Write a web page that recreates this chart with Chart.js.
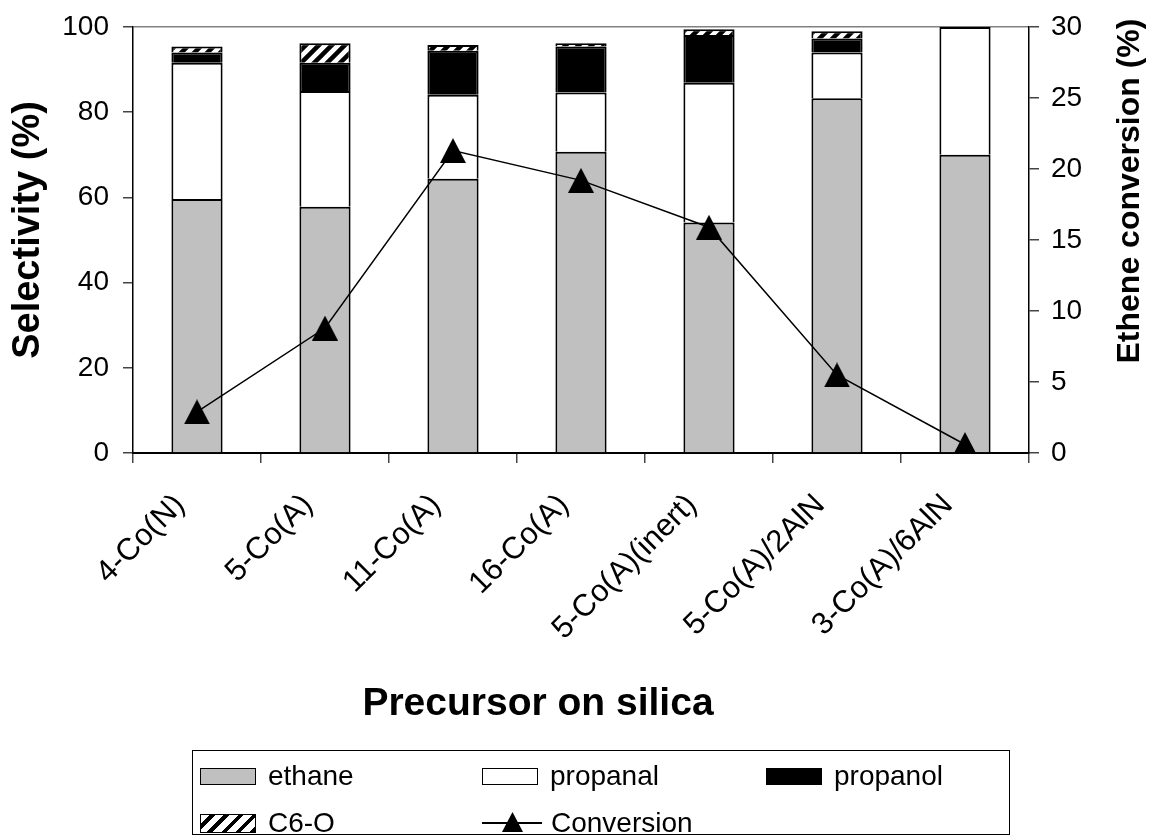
<!DOCTYPE html>
<html>
<head>
<meta charset="utf-8">
<script src="https://cdn.jsdelivr.net/npm/chart.js@4/dist/chart.umd.min.js"></script>
<style>
  body { margin: 0; background: #fff; }
  #wrap { position: relative; width: 1153px; height: 837px; }
  #legend { position: absolute; left: 192px; top: 750px; width: 818px; height: 85px;
    border: 1.5px solid #000; box-sizing: border-box;
    font-family: "Liberation Sans", Arial, sans-serif; font-size: 28px; color: #000; }
  .item { position: absolute; height: 32px; display: flex; align-items: center; }
  .sw { width: 56px; height: 17px; border: 1.5px solid #000; box-sizing: border-box; margin-right: 12px; }
  .ethane { background: #c0c0c0; }
  .propanal { background: #fff; }
  .propanol { background: #000; }
  .c6o { height: 19px; background: repeating-linear-gradient(-45deg, #000 0 4px, #fff 4px 10px); }
  .conv { position: relative; width: 60px; height: 32px; margin-right: 9px; }
  .conv .ln { position: absolute; left: 0; right: 0; top: 15px; height: 1.5px; background: #000; }
  .conv canvas { position: absolute; left: 20px; top: 5px; }
</style>
</head>
<body>
<div id="wrap">
  <canvas id="c" width="1153" height="837"></canvas>
  <div id="legend">
    <div class="item" style="left:7px; top:9px;"><div class="sw ethane"></div><span>ethane</span></div>
    <div class="item" style="left:289px; top:9px;"><div class="sw propanal"></div><span>propanal</span></div>
    <div class="item" style="left:573px; top:9px;"><div class="sw propanol"></div><span>propanol</span></div>
    <div class="item" style="left:7px; top:56px;"><div class="sw c6o"></div><span>C6-O</span></div>
    <div class="item" style="left:289px; top:56px;"><div class="conv"><div class="ln"></div><canvas id="legTri" width="21" height="20"></canvas></div><span>Conversion</span></div>
  </div>
</div>
<script>
// ---- data ----
const categories = ['4-Co(N)', '5-Co(A)', '11-Co(A)', '16-Co(A)', '5-Co(A)(inert)', '5-Co(A)/2AlN', '3-Co(A)/6AlN'];
const ethane     = [59.6, 57.8, 64.4, 70.7, 54.1, 83.3, 70.0];
const propanal   = [32.0, 27.2, 19.7, 13.9, 32.8, 10.7, 30.0];
const propanol   = [2.4, 6.6, 10.3, 10.8, 11.2, 3.3, null];
const c6o        = [1.4, 4.6, 1.4, 0.8, 1.4, 1.7, null];
const conversion = [2.9, 8.8, 21.3, 19.2, 15.9, 5.5, 0.6];
const selectivityTicks = [0, 20, 40, 60, 80, 100];
const conversionTicks  = [0, 5, 10, 15, 20, 25, 30];
const xTitle = 'Precursor on silica';
const yTitle = 'Selectivity (%)';
const y1Title = 'Ethene conversion (%)';

const FONT = '"Liberation Sans", Arial, sans-serif';

function makeTriangle(cv, w, h) {
  const c = cv || document.createElement('canvas');
  c.width = w; c.height = h;
  const g = c.getContext('2d');
  g.fillStyle = '#000';
  g.beginPath();
  g.moveTo(w / 2, 0); g.lineTo(w, h); g.lineTo(0, h); g.closePath();
  g.fill();
  return c;
}
const tri = makeTriangle(null, 26, 25);
makeTriangle(document.getElementById('legTri'), 21, 20);

function hatch() {
  const s = 13;
  const c = document.createElement('canvas');
  c.width = s; c.height = s;
  const g = c.getContext('2d');
  g.fillStyle = '#fff'; g.fillRect(0, 0, s, s);
  g.strokeStyle = '#000'; g.lineWidth = 4.5; g.lineCap = 'square';
  g.beginPath();
  g.moveTo(0, s); g.lineTo(s, 0);
  g.moveTo(-s / 2, s / 2); g.lineTo(s / 2, -s / 2);
  g.moveTo(s / 2, s * 1.5); g.lineTo(s * 1.5, s / 2);
  g.stroke();
  return g.createPattern(c, 'repeat');
}
const ctx = document.getElementById('c').getContext('2d');

// axis titles placed as in the reference (vertical titles read bottom-to-top)
const axisTitles = {
  id: 'axisTitles',
  afterDraw(chart) {
    const c = chart.ctx;
    const sc = chart.options.scales;
    c.save();
    c.fillStyle = '#000';
    c.font = 'bold 39px ' + FONT;
    c.textAlign = 'center'; c.textBaseline = 'alphabetic';
    c.fillText(sc.x.title.text, 538, 715);

    c.save();
    c.translate(29, 230); c.rotate(-Math.PI / 2);
    c.font = 'bold 38px ' + FONT; c.textBaseline = 'middle';
    c.fillText(sc.y.title.text, 0, 0);
    c.restore();

    c.save();
    c.translate(1130, 191); c.rotate(-Math.PI / 2);
    c.font = 'bold 32px ' + FONT; c.textBaseline = 'middle';
    c.fillText(sc.y1.title.text, 0, 0);
    c.restore();
    c.restore();
  }
};

const barCommon = { type: 'bar', yAxisID: 'y', borderColor: '#000', borderWidth: 2, borderSkipped: 'start',
  barPercentage: 0.4, categoryPercentage: 1.0, stack: 's' };

new Chart(ctx, {
  data: {
    labels: categories,
    datasets: [
      { label: 'Conversion', type: 'line', data: conversion, yAxisID: 'y1', order: 0,
        borderColor: '#000', borderWidth: 1.5, tension: 0, fill: false,
        pointStyle: tri, pointRadius: 13, backgroundColor: '#000' },
      Object.assign({ label: 'ethane', data: ethane, backgroundColor: '#c0c0c0', order: 1 }, barCommon),
      Object.assign({ label: 'propanal', data: propanal, backgroundColor: '#ffffff', order: 2 }, barCommon),
      Object.assign({ label: 'propanol', data: propanol, backgroundColor: '#000000', order: 3 }, barCommon),
      Object.assign({ label: 'C6-O', data: c6o, backgroundColor: hatch(), order: 4 }, barCommon)
    ]
  },
  plugins: [axisTitles],
  options: {
    responsive: false,
    animation: false,
    layout: { padding: { top: 27, bottom: 114, left: 0, right: 0 } },
    plugins: { legend: { display: false }, tooltip: { enabled: false } },
    scales: {
      x: {
        stacked: true,
        offset: true,
        grid: { offset: true, drawOnChartArea: false, tickLength: 10, tickColor: '#444', lineWidth: 1.5 },
        border: { color: '#000', width: 2 },
        ticks: { color: '#000', font: { family: FONT, size: 31 }, minRotation: 45, maxRotation: 45,
          autoSkip: false, padding: 24, labelOffset: -17 },
        title: { display: false, text: xTitle },
        afterFit(s) { s.height = 270; }
      },
      y: {
        stacked: true,
        position: 'left',
        min: 0, max: 100,
        afterBuildTicks(s) { s.ticks = selectivityTicks.map(v => ({ value: v })); },
        grid: { color: c => (c.tick && c.tick.value === 100) ? '#808080' : 'rgba(0,0,0,0)', lineWidth: 1.5, tickLength: 10, tickColor: '#444' },
        border: { color: '#000', width: 1.5 },
        ticks: { color: '#000', font: { family: FONT, size: 28, lineHeight: 0.8 }, padding: 14 },
        title: { display: false, text: yTitle },
        afterFit(s) { s.width = 133; }
      },
      y1: {
        position: 'right',
        min: 0, max: 30,
        afterBuildTicks(s) { s.ticks = conversionTicks.map(v => ({ value: v })); },
        grid: { drawOnChartArea: false, tickLength: 10, tickColor: '#444', lineWidth: 1.5 },
        border: { color: '#000', width: 1.5 },
        ticks: { color: '#000', font: { family: FONT, size: 28, lineHeight: 0.8 }, padding: 12 },
        title: { display: false, text: y1Title },
        afterFit(s) { s.width = 124; }
      }
    }
  }
});
</script>
</body>
</html>
